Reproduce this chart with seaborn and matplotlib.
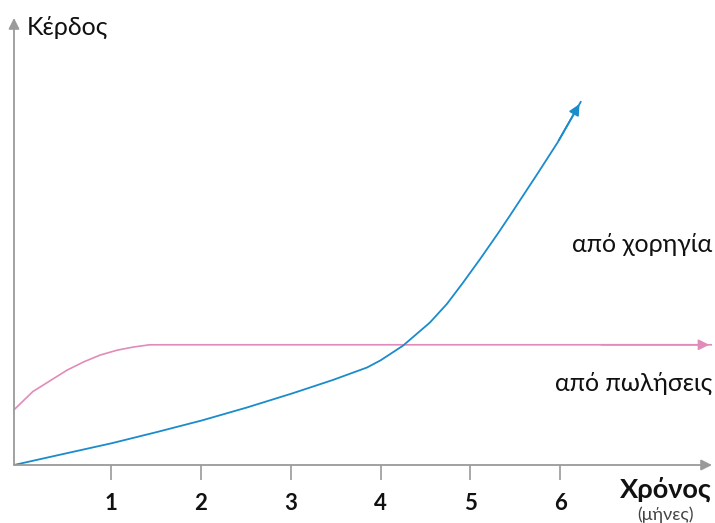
import matplotlib
matplotlib.use("Agg")
import matplotlib.pyplot as plt
import numpy as np
import pandas as pd
import seaborn as sns

# === Dati (mesi, profitto in unità arbitrarie) ===
mesi_tick = [1, 2, 3, 4, 5, 6]

x_sponsor = [-0.08, 0.43, 1.01, 1.51, 2.01, 2.51, 3.02, 3.47, 3.85, 4.00, 4.25,
             4.55, 4.74, 4.92, 5.11, 5.30, 5.44, 5.74, 5.97, 6.23]
y_sponsor = [0.00, 0.23, 0.49, 0.74, 1.00, 1.29, 1.61, 1.91, 2.19, 2.35, 2.68,
             3.20, 3.62, 4.10, 4.63, 5.18, 5.60, 6.52, 7.24, 8.16]

x_vendite = [-0.08, 0.13, 0.32, 0.51, 0.70, 0.88, 1.07, 1.25, 1.43, 7.69]
y_vendite = [1.24, 1.65, 1.89, 2.13, 2.32, 2.47, 2.58, 2.65, 2.70, 2.70]

blu = "#1a8bcb"
rosa = "#e08bb9"
grigio = "#9a9a9a"

sns.set_theme(style="white")
plt.rcParams["font.family"] = ["Lato", "Noto Sans", "DejaVu Sans"]

fig = plt.figure(figsize=(7.15, 5.23), dpi=100)
ax = fig.add_axes([14 / 715, 58 / 523, (712 - 14) / 715, (465 - 18) / 523])

df_s = pd.DataFrame({"x": x_sponsor, "y": y_sponsor})
df_v = pd.DataFrame({"x": x_vendite, "y": y_vendite})
sns.lineplot(data=df_v, x="x", y="y", sort=False, estimator=None, color=rosa, lw=1.2, ax=ax)
sns.lineplot(data=df_s, x="x", y="y", sort=False, estimator=None, color=blu, lw=1.3, ax=ax)

# frecce alla fine delle curve
ax.annotate("", xy=(x_vendite[-1], y_vendite[-1]), xytext=(x_vendite[-2] + 5, y_vendite[-2]),
            arrowprops=dict(arrowstyle="-|>", color=rosa, lw=1.2, mutation_scale=16))
ax.annotate("", xy=(x_sponsor[-1], y_sponsor[-1]), xytext=(x_sponsor[-2], y_sponsor[-2]),
            arrowprops=dict(arrowstyle="-|>", color=blu, lw=1.3, mutation_scale=16))

ax.set_xlim(-0.08, 7.69)
ax.set_ylim(0, 10.04)
for s in ax.spines.values():
    s.set_visible(False)

# assi con frecce
ax.annotate("", xy=(7.69, 0), xytext=(-0.08, 0),
            arrowprops=dict(arrowstyle="-|>", color=grigio, lw=1.3, mutation_scale=16, shrinkA=0, shrinkB=0))
ax.annotate("", xy=(-0.08, 10.04), xytext=(-0.08, 0),
            arrowprops=dict(arrowstyle="-|>", color=grigio, lw=1.3, mutation_scale=16, shrinkA=0, shrinkB=0))

ax.set_xticks(mesi_tick)
ax.set_xticklabels([str(m) for m in mesi_tick], fontsize=16, fontweight="bold", color="#111111")
ax.tick_params(axis="x", bottom=True, length=11, width=1.2, color=grigio, pad=9)
ax.set_yticks([])
ax.set_xlabel("")
ax.set_ylabel("")

fig.text(27 / 715, 1 - 27 / 523, "Κέρδος", fontsize=18, color="#111111", va="center", ha="left")
fig.text(712 / 715, 1 - 489 / 523, "Χρόνος", fontsize=19.5, fontweight="bold", color="#111111", va="center", ha="right")
fig.text(666 / 715, 1 - 515 / 523, "(μήνες)", fontsize=13, color="#444444", va="center", ha="center")
fig.text(712 / 715, 1 - 244 / 523, "από χορηγία", fontsize=18, color="#111111", va="center", ha="right")
fig.text(712 / 715, 1 - 383 / 523, "από πωλήσεις", fontsize=18, color="#111111", va="center", ha="right")

plt.savefig("out.png", dpi=100)
plt.close()
